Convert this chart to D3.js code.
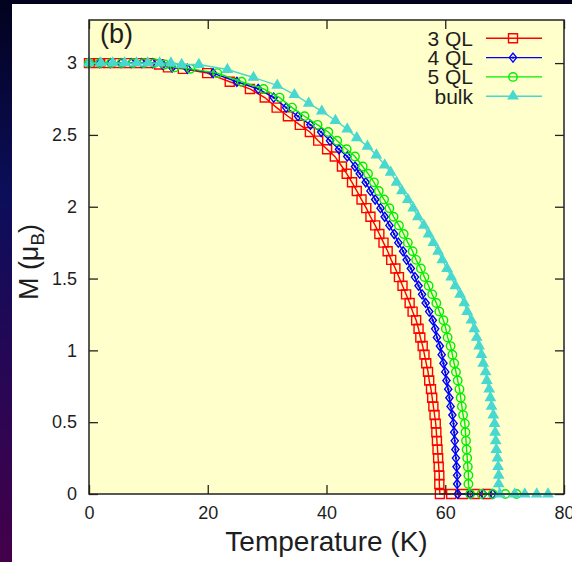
<!DOCTYPE html>
<html>
<head>
<meta charset="utf-8">
<script src="https://cdn.jsdelivr.net/npm/d3@7"></script>
<style>
  html, body { margin: 0; padding: 0; background: #00001e; overflow: hidden; }
  svg { display: block; }
  text { font-family: "Liberation Sans", Arial, Helvetica, sans-serif; fill: #1e1e1e; }
</style>
</head>
<body>
<div id="chart"></div>
<script>
// ====== M(T) for thin films vs bulk ======

// 3 QL
var tempQL3 = [0, 1.7, 3.4, 5.1, 6.8, 8.5, 10.2, 11.8, 13.3, 15.8, 19.9, 23.7, 27.1, 29.6, 31.6, 33.5, 35.5, 37.2, 38.6, 40.1, 41.4, 42.6, 43.4,
    44.3, 45.1, 45.9, 46.7, 47.4, 48.2, 48.9, 49.6, 50.3, 50.9, 51.6, 52.2, 52.8, 53.4, 54.0, 54.5, 55.1, 55.5, 55.8, 56.2,
    56.5, 56.8, 57.1, 57.3, 57.6, 57.8, 58.0, 58.2, 58.4, 58.5, 58.6, 58.7, 58.8, 58.9, 59.0, 59.0,
    59.1, 61.0, 63.0, 65.0, 67.0];
var magQL3 = [3, 3, 3, 3, 3, 3, 3.0, 2.99, 2.97, 2.96, 2.93, 2.87, 2.82, 2.76, 2.69, 2.63, 2.57, 2.52, 2.46, 2.40, 2.35, 2.28, 2.23,
    2.17, 2.11, 2.05, 1.99, 1.93, 1.87, 1.81, 1.75, 1.69, 1.63, 1.57, 1.51, 1.45, 1.39, 1.33, 1.27, 1.21, 1.15, 1.09, 1.03,
    0.97, 0.91, 0.85, 0.79, 0.73, 0.67, 0.61, 0.55, 0.49, 0.43, 0.37, 0.31, 0.25, 0.19, 0.13, 0.07,
    0, 0, 0, 0, 0];

// 4 QL
var tempQL4 = [0, 1.8, 3.6, 5.4, 7.1, 8.9, 10.7, 12.4, 14.0, 16.6, 20.9, 24.9, 28.5, 31.1, 33.2, 35.2, 37.3, 39.1, 40.6, 42.1, 43.5, 44.8, 45.6,
    46.6, 47.4, 48.2, 49.1, 49.8, 50.6, 51.4, 52.1, 52.9, 53.5, 54.2, 54.9, 55.5, 56.1, 56.7, 57.3, 57.9, 58.3, 58.6, 59.1,
    59.4, 59.7, 60.0, 60.2, 60.5, 60.7, 60.9, 61.2, 61.4, 61.5, 61.6, 61.7, 61.8, 61.9, 62.0, 62.0,
    62.1, 64.2, 66.4, 68.0];
var magQL4 = [3, 3, 3, 3, 3, 3, 3.0, 2.99, 2.97, 2.96, 2.93, 2.87, 2.82, 2.76, 2.69, 2.63, 2.57, 2.52, 2.46, 2.40, 2.35, 2.28, 2.23,
    2.17, 2.11, 2.05, 1.99, 1.93, 1.87, 1.81, 1.75, 1.69, 1.63, 1.57, 1.51, 1.45, 1.39, 1.33, 1.27, 1.21, 1.15, 1.09, 1.03,
    0.97, 0.91, 0.85, 0.79, 0.73, 0.67, 0.61, 0.55, 0.49, 0.43, 0.37, 0.31, 0.25, 0.19, 0.13, 0.07,
    0, 0, 0, 0];

// 5 QL
var tempQL5 = [0, 1.8, 3.7, 5.5, 7.4, 9.2, 11.0, 12.8, 14.4, 17.1, 21.6, 25.7, 29.4, 32.1, 34.2, 36.3, 38.5, 40.3, 41.8, 43.4, 44.8, 46.1, 47.0,
    48.0, 48.8, 49.7, 50.6, 51.3, 52.2, 53.0, 53.7, 54.5, 55.1, 55.9, 56.5, 57.2, 57.8, 58.5, 59.0, 59.7, 60.1, 60.4, 60.9,
    61.2, 61.5, 61.8, 62.1, 62.4, 62.6, 62.8, 63.0, 63.3, 63.4, 63.5, 63.6, 63.7, 63.8, 63.9, 63.9,
    64.2, 66.1, 68.0, 70.1, 72.0];
var magQL5 = [3, 3, 3, 3, 3, 3, 3.0, 2.99, 2.97, 2.96, 2.93, 2.87, 2.82, 2.76, 2.69, 2.63, 2.57, 2.52, 2.46, 2.40, 2.35, 2.28, 2.23,
    2.17, 2.11, 2.05, 1.99, 1.93, 1.87, 1.81, 1.75, 1.69, 1.63, 1.57, 1.51, 1.45, 1.39, 1.33, 1.27, 1.21, 1.15, 1.09, 1.03,
    0.97, 0.91, 0.85, 0.79, 0.73, 0.67, 0.61, 0.55, 0.49, 0.43, 0.37, 0.31, 0.25, 0.19, 0.13, 0.07,
    0, 0, 0, 0, 0];

// bulk
var tempBulk = [0, 2.0, 4.0, 6.0, 8.0, 9.9, 11.9, 13.8, 15.6, 18.5, 23.3, 27.7, 31.7, 34.6, 37.0, 39.2, 41.5, 43.5, 45.1, 46.9, 48.4, 49.8, 50.8,
    51.8, 52.7, 53.7, 54.6, 55.4, 56.4, 57.2, 58.0, 58.8, 59.5, 60.3, 61.0, 61.7, 62.5, 63.2, 63.7, 64.4, 64.9, 65.3, 65.7,
    66.1, 66.4, 66.8, 67.0, 67.4, 67.6, 67.8, 68.1, 68.3, 68.4, 68.5, 68.6, 68.8, 68.9, 69.0, 69.0,
    69.2, 71.7, 73.4, 75.4, 77.3];
var magBulk = [3, 3, 3, 3, 3, 3, 3.0, 3.0, 2.99, 2.99, 2.955, 2.90, 2.845, 2.78, 2.72, 2.665, 2.60, 2.54, 2.48, 2.42, 2.36, 2.29, 2.24,
    2.17, 2.11, 2.05, 1.99, 1.93, 1.87, 1.81, 1.75, 1.69, 1.63, 1.57, 1.51, 1.45, 1.39, 1.33, 1.27, 1.21, 1.15, 1.09, 1.03,
    0.97, 0.91, 0.85, 0.79, 0.73, 0.67, 0.61, 0.55, 0.49, 0.43, 0.37, 0.31, 0.25, 0.19, 0.13, 0.07,
    0, 0, 0, 0, 0];

var seriesNames = ['3 QL', '4 QL', '5 QL', 'bulk'];
var xTicks = [0, 20, 40, 60, 80];
var yTicks = [0, 0.5, 1, 1.5, 2, 2.5, 3];

// chart setup
var width = 572, height = 562;
var plot = {left: 89, right: 564, top: 20, bottom: 494};

var series = [
    {name: seriesNames[0], temp: tempQL3, mag: magQL3, color: '#ff0000', marker: 'square'},
    {name: seriesNames[1], temp: tempQL4, mag: magQL4, color: '#0000ff', marker: 'diamond'},
    {name: seriesNames[2], temp: tempQL5, mag: magQL5, color: '#00ee00', marker: 'circle'},
    {name: seriesNames[3], temp: tempBulk, mag: magBulk, color: '#48d8d0', marker: 'triangle'}
];

var x = d3.scaleLinear().domain([0, 80]).range([plot.left, plot.right]);
var y = d3.scaleLinear().domain([0, 3.3]).range([plot.bottom, plot.top]);

var svg = d3.select('#chart').append('svg')
    .attr('width', width)
    .attr('height', height);

// slide background + white panel
var grad = svg.append('defs').append('linearGradient')
    .attr('id', 'bg')
    .attr('x1', 0).attr('y1', 0).attr('x2', 0).attr('y2', 1);
grad.append('stop').attr('offset', '0%').attr('stop-color', '#02021e');
grad.append('stop').attr('offset', '35%').attr('stop-color', '#0c0e5a');
grad.append('stop').attr('offset', '70%').attr('stop-color', '#2a0654');
grad.append('stop').attr('offset', '100%').attr('stop-color', '#44004a');

svg.append('rect').attr('width', width).attr('height', height).attr('fill', 'url(#bg)');
svg.append('rect').attr('x', 12).attr('y', 4).attr('width', width - 12).attr('height', height - 4).attr('fill', '#ffffff');

// plot area
svg.append('rect')
    .attr('x', plot.left).attr('y', plot.top)
    .attr('width', plot.right - plot.left).attr('height', plot.bottom - plot.top)
    .attr('fill', '#ffffcc');

// axes (ticks point inward)
function styleAxis(g) {
    g.select('.domain').remove();
    g.selectAll('.tick line').attr('stroke', '#222').attr('stroke-width', 1.3);
    g.selectAll('.tick text').attr('font-size', 18).attr('fill', '#1e1e1e')
        .attr('font-family', '"Liberation Sans", Arial, sans-serif');
}

svg.append('g')
    .attr('transform', 'translate(0,' + plot.bottom + ')')
    .call(d3.axisBottom(x).tickValues(xTicks).tickSize(-9).tickPadding(12).tickFormat(d3.format('d')))
    .call(styleAxis);

svg.append('g')
    .attr('transform', 'translate(' + plot.left + ',0)')
    .call(d3.axisLeft(y).tickValues(yTicks).tickSize(-9).tickPadding(12).tickFormat(function(d) { return String(d); }))
    .call(styleAxis);

svg.append('g')
    .attr('transform', 'translate(0,' + plot.top + ')')
    .call(d3.axisTop(x).tickValues(xTicks).tickSize(-9).tickFormat(''))
    .call(styleAxis);

svg.append('g')
    .attr('transform', 'translate(' + plot.right + ',0)')
    .call(d3.axisRight(y).tickValues(yTicks).tickSize(-9).tickFormat(''))
    .call(styleAxis);

// marker shapes
function markerPath(type) {
    if (type === 'square') return 'M-4.5,-4.5H4.5V4.5H-4.5Z';
    if (type === 'diamond') return 'M0,-4.5L3.6,0L0,4.5L-3.6,0Z';
    if (type === 'circle') return d3.symbol().type(d3.symbolCircle).size(56)();
    return d3.symbol().type(d3.symbolTriangle).size(38)();
}

function drawMarker(g, s, px, py) {
    var m = g.append('path')
        .attr('d', markerPath(s.marker))
        .attr('transform', 'translate(' + px + ',' + py + ')')
        .attr('stroke', s.color)
        .attr('stroke-width', 1.4);
    if (s.marker === 'triangle') {
        m.attr('fill', s.color);
    } else {
        m.attr('fill', 'none');
    }
    if (s.marker === 'diamond') {
        g.append('circle').attr('cx', px).attr('cy', py).attr('r', 1.2).attr('fill', s.color);
    }
}

var line = d3.line()
    .x(function(d) { return x(d[0]); })
    .y(function(d) { return y(d[1]); });

var dataLayer = svg.append('g').attr('class', 'series');

series.forEach(function(s) {
    var pts = s.temp.map(function(t, i) { return [t, s.mag[i]]; });
    var g = dataLayer.append('g');
    g.append('path')
        .attr('d', line(pts))
        .attr('fill', 'none')
        .attr('stroke', s.color)
        .attr('stroke-width', 1.4);
    pts.forEach(function(p) {
        drawMarker(g, s, x(p[0]), y(p[1]));
    });
});

// frame
svg.append('rect')
    .attr('x', plot.left).attr('y', plot.top)
    .attr('width', plot.right - plot.left).attr('height', plot.bottom - plot.top)
    .attr('fill', 'none')
    .attr('stroke', '#222')
    .attr('stroke-width', 1.5);

// legend
var legend = svg.append('g').attr('class', 'legend');
series.forEach(function(s, i) {
    var ly = 38.3 + i * 19.3;
    legend.append('text')
        .attr('x', 473).attr('y', ly)
        .attr('dy', '0.36em')
        .attr('text-anchor', 'end')
        .attr('font-size', 21)
        .text(s.name);
    legend.append('line')
        .attr('x1', 486).attr('x2', 542)
        .attr('y1', ly).attr('y2', ly)
        .attr('stroke', s.color)
        .attr('stroke-width', 1.4);
    drawMarker(legend, s, 513, ly);
});

// panel label
svg.append('text')
    .attr('x', 100).attr('y', 43)
    .attr('font-size', 27)
    .text('(b)');

// axis titles
svg.append('text')
    .attr('x', (plot.left + plot.right) / 2)
    .attr('y', 551)
    .attr('text-anchor', 'middle')
    .attr('font-size', 28)
    .text('Temperature (K)');

var yTitle = svg.append('text')
    .attr('transform', 'translate(38,262) rotate(-90)')
    .attr('text-anchor', 'middle')
    .attr('font-size', 27);
yTitle.append('tspan').text('M (\u03bc');
yTitle.append('tspan').attr('font-size', 19).attr('dy', 6).text('B');
yTitle.append('tspan').attr('dy', -6).text(')');
</script>
</body>
</html>
